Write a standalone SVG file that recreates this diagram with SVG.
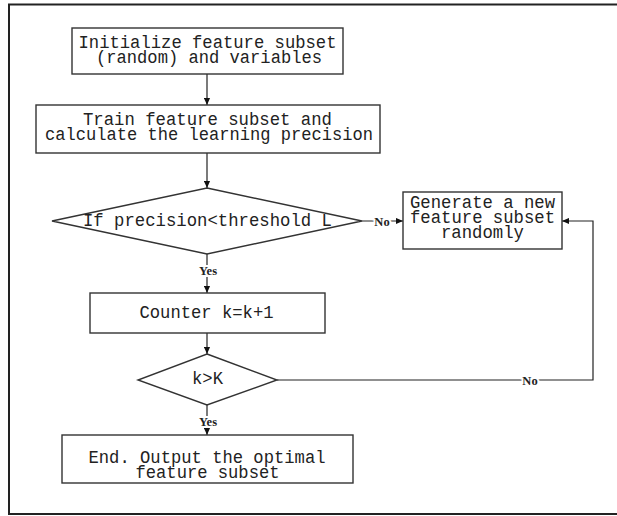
<svg xmlns="http://www.w3.org/2000/svg" width="617" height="516" viewBox="0 0 617 516">
<defs>
<marker id="arr" viewBox="0 0 8 8" refX="8" refY="4" markerWidth="7" markerHeight="7" markerUnits="userSpaceOnUse" orient="auto">
<path d="M0,0.5 L8,4 L0,7.5 Z" fill="#111"/>
</marker>
<style>
.box{fill:#fff;stroke:#333;stroke-width:1.4}
.t{font-family:"Liberation Mono","DejaVu Sans Mono",monospace;font-size:18.5px;fill:#222;text-anchor:middle}
.lbl{font-family:"Liberation Serif","Times New Roman",serif;font-size:12.5px;font-weight:bold;fill:#222;text-anchor:middle;stroke:#fff;stroke-width:4px;paint-order:stroke}
.c{fill:none;stroke:#222;stroke-width:1.2}
</style>
</defs>
<rect x="9" y="4.5" width="620" height="509.5" fill="#fff" stroke="#222" stroke-width="2"/>
<g id="connectors">
<line class="c" x1="207" y1="74" x2="207" y2="105" marker-end="url(#arr)"/>
<line class="c" x1="207" y1="153" x2="207" y2="188" marker-end="url(#arr)"/>
<line class="c" x1="362" y1="221" x2="403" y2="221" marker-end="url(#arr)"/>
<line class="c" x1="207" y1="254" x2="207" y2="293" marker-end="url(#arr)"/>
<line class="c" x1="207" y1="333" x2="207" y2="354" marker-end="url(#arr)"/>
<line class="c" x1="207" y1="405" x2="207" y2="435" marker-end="url(#arr)"/>
<polyline class="c" points="277,380 593,380 593,221 562,221" marker-end="url(#arr)"/>
<text class="lbl" x="382" y="226">No</text>
<text class="lbl" x="208" y="275">Yes</text>
<text class="lbl" x="530" y="384.5">No</text>
<text class="lbl" x="208" y="425.5">Yes</text>
</g>
<g id="init">
<rect class="box" x="72" y="28" width="271" height="46"/>
<text class="t" x="207.5" y="47.5" textLength="258" lengthAdjust="spacingAndGlyphs">Initialize feature subset</text>
<text class="t" x="209" y="62.5" textLength="226" lengthAdjust="spacingAndGlyphs">(random) and variables</text>
</g>
<g id="train">
<rect class="box" x="36" y="105" width="344" height="48"/>
<text class="t" x="207.5" y="124.5" textLength="249" lengthAdjust="spacingAndGlyphs">Train feature subset and</text>
<text class="t" x="209" y="139.5" textLength="328" lengthAdjust="spacingAndGlyphs">calculate the learning precision</text>
</g>
<g id="decision1">
<polygon class="box" points="207,188 362,221 207,254 52,221"/>
<text class="t" x="207.5" y="226" textLength="249" lengthAdjust="spacingAndGlyphs">If precision&lt;threshold L</text>
</g>
<g id="generate">
<rect class="box" x="403" y="192" width="159" height="57"/>
<text class="t" x="482.5" y="207.5" textLength="145" lengthAdjust="spacingAndGlyphs">Generate a new</text>
<text class="t" x="482.5" y="222.5" textLength="145" lengthAdjust="spacingAndGlyphs">feature subset</text>
<text class="t" x="482.5" y="237.5" textLength="83" lengthAdjust="spacingAndGlyphs">randomly</text>
</g>
<g id="counter">
<rect class="box" x="90" y="293" width="235" height="40"/>
<text class="t" x="206.5" y="318" textLength="134" lengthAdjust="spacingAndGlyphs">Counter k=k+1</text>
</g>
<g id="decision2">
<polygon class="box" points="207,354 277,380 207,405 138,380"/>
<text class="t" x="207.5" y="384" textLength="31" lengthAdjust="spacingAndGlyphs">k&gt;K</text>
</g>
<g id="end">
<rect class="box" x="62" y="435" width="291" height="48"/>
<text class="t" x="207" y="462.5" textLength="237" lengthAdjust="spacingAndGlyphs">End. Output the optimal</text>
<text class="t" x="207.5" y="477.5" textLength="144" lengthAdjust="spacingAndGlyphs">feature subset</text>
</g>
</svg>
